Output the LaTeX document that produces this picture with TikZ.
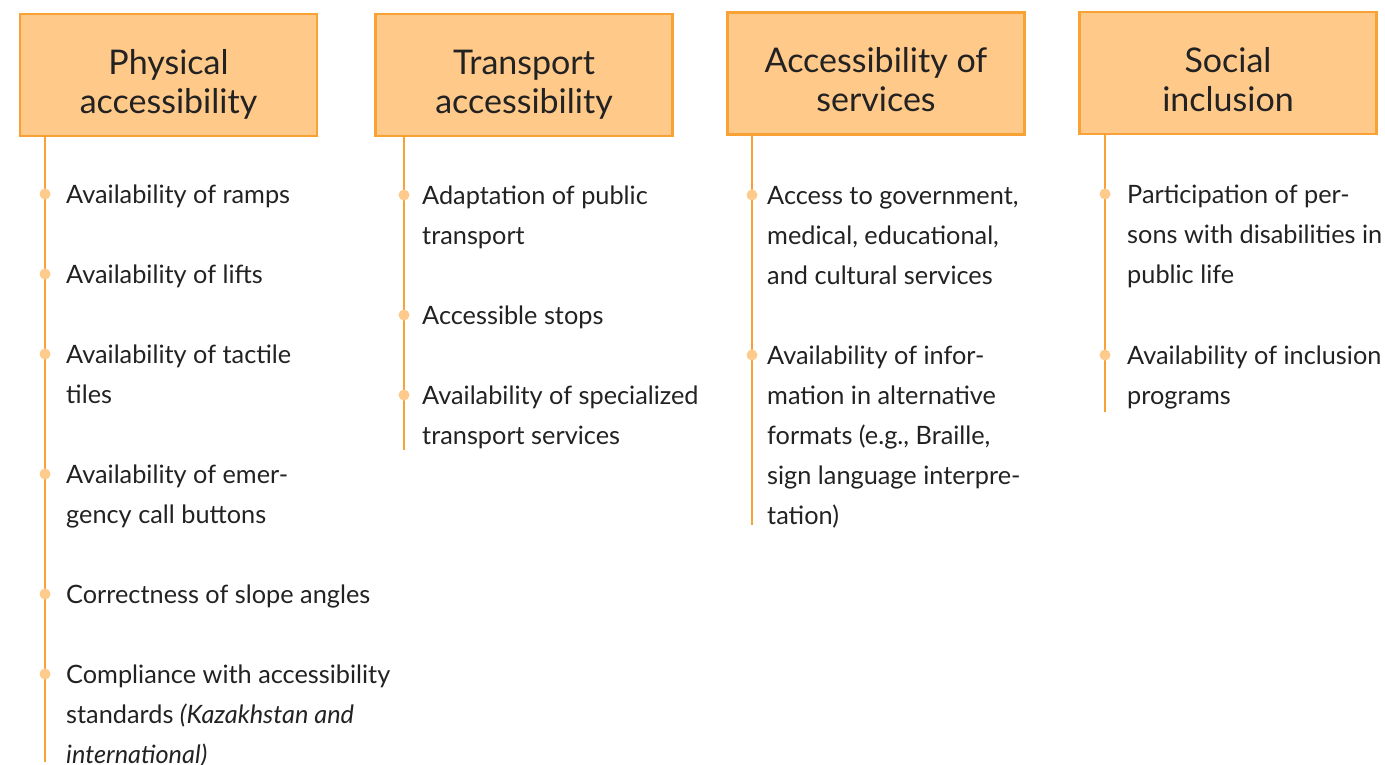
\documentclass[tikz,border=0pt]{standalone}
\usepackage{fontspec}
\setmainfont{Lato}
\usepackage{tikz}
\usetikzlibrary{positioning}
\definecolor{boxfill}{HTML}{FFC98A}
\definecolor{boxline}{HTML}{F8A134}
\definecolor{dotfill}{HTML}{FFCB8C}
\definecolor{ink}{HTML}{222222}
\newcommand{\topstrut}{\rule{0pt}{44pt}}
\newcommand{\botstrut}{\rule[-6pt]{0pt}{0pt}}
\tikzset{head/.style={rectangle,draw=boxline,fill=boxfill,line width=2.5pt,minimum width=297pt,minimum height=122pt,align=center,text=ink,font=\fontsize{34}{39}\selectfont}}
\tikzset{dot/.style={circle,fill=dotfill,minimum size=11pt,inner sep=0pt}}
\tikzset{item/.style={anchor=north west,align=left,inner sep=0pt,text=ink,font=\fontsize{25.3}{40}\selectfont}}
\tikzset{stem/.style={draw=boxline,line width=2.5pt}}

\begin{document}
\begin{tikzpicture}[x=1pt,y=-1pt]

  \useasboundingbox (0,0) rectangle (1385,765);

  % headings
  \node[head] (phys) at (168.5,75) {\topstrut Physical\\accessibility\botstrut};
  \node[head] (trans) at (524,75) {\topstrut Transport\\accessibility\botstrut};
  \node[head] (serv) at (876,73.5) {\topstrut Accessibility of\\services\botstrut};
  \node[head] (soc) at (1228,73) {\topstrut Social\\inclusion\botstrut};

  % ends of the stems
  \coordinate (physend) at (45,762);
  \coordinate (transend) at (404,450);
  \coordinate (servend) at (752,525);
  \coordinate (socend) at (1105,412);

  \path[stem] (phys.south -| physend) -- (physend);
  \path[stem] (trans.south -| transend) -- (transend);
  \path[stem] (serv.south -| servend) -- (servend);
  \path[stem] (soc.south -| socend) -- (socend);

  % physical
  \foreach \y/\txt [count=\i] in {194/{Availability of ramps}, 274/{Availability of lifts},
      354/{Availability of tactile\\tiles}, 474/{Availability of emer-\\gency call buttons},
      594/{Correctness of slope angles},
      674/{Compliance with accessibility\\standards \textit{(Kazakhstan and}\\\textit{international)}}}
  {
    \node[dot] (phys-dot-\i) at (45,\y) {};
    \node[item] (phys-item-\i) at (66,\y-19) {\strut\txt};
  }

  % transport
  \foreach \y/\txt [count=\i] in {195/{Adaptation of public\\transport}, 315/{Accessible stops},
      395/{Availability of specialized\\transport services}}
  {
    \node[dot] (trans-dot-\i) at (404,\y) {};
    \node[item] (trans-item-\i) at (422,\y-19) {\strut\txt};
  }

  % services
  \foreach \y/\txt [count=\i] in {195/{Access to government,\\medical, educational,\\and cultural services},
      355/{Availability of infor-\\mation in alternative\\formats (e.g., Braille,\\sign language interpre-\\tation)}}
  {
    \node[dot] (serv-dot-\i) at (752,\y) {};
    \node[item] (serv-item-\i) at (767,\y-19) {\strut\txt};
  }

  % social
  \foreach \y/\txt [count=\i] in {194/{Participation of per-\\sons with disabilities in\\public life},
      355/{Availability of inclusion\\programs}}
  {
    \node[dot] (soc-dot-\i) at (1105,\y) {};
    \node[item] (soc-item-\i) at (1127,\y-19) {\strut\txt};
  }

\end{tikzpicture}
\end{document}
